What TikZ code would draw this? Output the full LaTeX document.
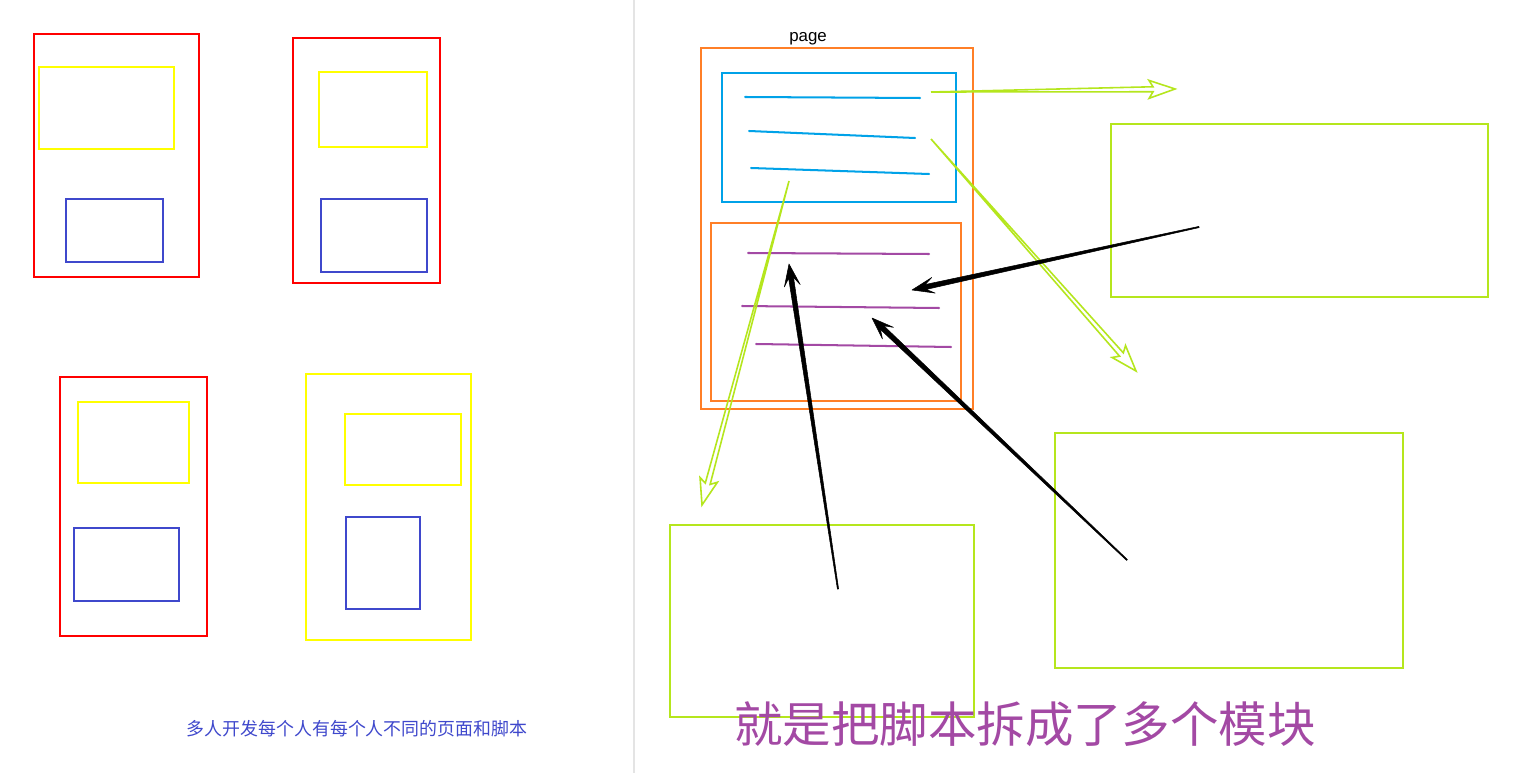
\documentclass[tikz,border=0pt]{standalone}
\usepackage{fontspec}
\setmainfont{Liberation Sans}
\newfontfamily\cjk{Noto Sans CJK SC}
\usetikzlibrary{calc}
\definecolor{pred}{RGB}{255,0,0}
\definecolor{pyellow}{RGB}{255,255,0}
\definecolor{pindigo}{RGB}{63,72,204}
\definecolor{porange}{RGB}{255,127,39}
\definecolor{pturq}{RGB}{0,162,232}
\definecolor{ppurple}{RGB}{163,73,164}
\definecolor{plime}{RGB}{181,230,29}
\definecolor{divgray}{RGB}{228,228,228}
\tikzset{
  box/.style={line width=1.25pt},
  stroke/.style={line width=1.15pt, line cap=round},
  garrow/.style={draw=plime, line width=0.9pt, line join=miter},
  barrow/.style={fill=black, draw=black, line width=0.3pt, line join=round},
}
% hollow double-line arrow from #1 to #2
\newcommand\garr[2]{%
  \coordinate (gh) at ($(#2)!0.44cm!(#1)$);
  \coordinate (gb) at ($(#2)!0.52cm!(#1)$);
  \draw[garrow] (#1) -- ($(gh)!0.05cm!90:(#2)$) -- ($(gb)!0.18cm!90:(#2)$) -- (#2)
    -- ($(gb)!0.18cm!-90:(#2)$) -- ($(gh)!0.05cm!-90:(#2)$) -- cycle;
}
% tapered solid arrow from #1 to #2
\newcommand\barr[2]{%
  \coordinate (bn) at ($(#2)!0.28cm!(#1)$);
  \coordinate (bb) at ($(#2)!0.44cm!(#1)$);
  \draw[barrow] ($(#1)!0.012cm!90:(#2)$) -- ($(bn)!0.05cm!90:(#2)$) -- ($(bb)!0.16cm!90:(#2)$) -- (#2)
    -- ($(bb)!0.16cm!-90:(#2)$) -- ($(bn)!0.05cm!-90:(#2)$) -- ($(#1)!0.012cm!-90:(#2)$) -- cycle;
}
\begin{document}
\begin{tikzpicture}[x=0.02cm,y=-0.02cm]
\useasboundingbox (0,0) rectangle (1517,773);
\fill[white] (0,0) rectangle (1517,773);
% divider
\draw[divgray, line width=0.6pt] (634,0) -- (634,773);

% ---- left half ----
\draw[box, pred] (34,34) rectangle (199,277);
\draw[box, pyellow] (39,67) rectangle (174,149);
\draw[box, pindigo] (66,199) rectangle (163,262);

\draw[box, pred] (293,38) rectangle (440,283);
\draw[box, pyellow] (319,72) rectangle (427,147);
\draw[box, pindigo] (321,199) rectangle (427,272);

\draw[box, pred] (60,377) rectangle (207,636);
\draw[box, pyellow] (78,402) rectangle (189,483);
\draw[box, pindigo] (74,528) rectangle (179,601);

\draw[box, pyellow] (306,374) rectangle (471,640);
\draw[box, pyellow] (345,414) rectangle (461,485);
\draw[box, pindigo] (346,517) rectangle (420,609);

\node[text=pindigo, font=\cjk\fontsize{10.2pt}{12pt}\selectfont, inner sep=0pt] (capl) at (357,729) {多人开发每个人有每个人不同的页面和脚本};

% ---- right half ----
\node[font=\fontsize{9.6pt}{11pt}\selectfont, inner sep=0pt] (pagelbl) at (808,39) {page};
\draw[box, porange] (701,48) rectangle (973,409);
\draw[box, pturq] (722,73) rectangle (956,202);
\draw[stroke, pturq] (745,97) -- (920,98);
\draw[stroke, pturq] (749,131) -- (915,138);
\draw[stroke, pturq] (751,168) -- (929,174);

\draw[box, porange] (711,223) rectangle (961,401);
\draw[stroke, ppurple] (748,253) -- (929,254);
\draw[stroke, ppurple] (742,306) -- (939,308);
\draw[stroke, ppurple] (756,344) -- (951,347);

% green module boxes
\draw[box, plime] (1111,124) rectangle (1488,297);
\draw[box, plime] (1055,433) rectangle (1403,668);
\draw[box, plime] (670,525) rectangle (974,717);

% green arrows
\coordinate (g1s) at (931,92);  \coordinate (g1e) at (1175,89);
\coordinate (g2s) at (931,139); \coordinate (g2e) at (1136,371);
\coordinate (g3s) at (789,181); \coordinate (g3e) at (702,505);
\garr{g1s}{g1e}
\garr{g2s}{g2e}
\garr{g3s}{g3e}

% black arrows
\coordinate (b1s) at (1199,227); \coordinate (b1e) at (912,290);
\coordinate (b2s) at (1127,560); \coordinate (b2e) at (872,318);
\coordinate (b3s) at (838,589);  \coordinate (b3e) at (789,264);
\barr{b1s}{b1e}
\barr{b2s}{b2e}
\barr{b3s}{b3e}

\node[text=ppurple, font=\cjk\fontsize{27.6pt}{32pt}\selectfont, inner sep=0pt] (capr) at (1025,724) {就是把脚本拆成了多个模块};
\end{tikzpicture}
\end{document}
